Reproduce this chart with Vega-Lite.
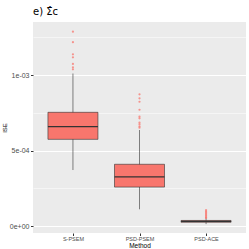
{
  "$schema": "https://vega.github.io/schema/vega-lite/v6.json",
  "autosize": "none",
  "width": 213,
  "height": 211,
  "padding": {"left": 33, "top": 22, "right": 3, "bottom": 16},
  "background": "white",
  "title": {"text": "e) Σ̂c", "anchor": "start", "frame": "group", "fontSize": 10, "fontWeight": "normal", "font": "DejaVu Sans", "color": "black", "offset": 5},
  "config": {
    "view": {"fill": "#EBEBEB", "stroke": null},
    "axis": {"domain": false, "gridColor": "white", "tickColor": "#333333", "tickSize": 2.5, "labelColor": "#4D4D4D", "labelFont": "Liberation Sans", "titleFont": "Liberation Sans", "titleFontWeight": "normal", "titleColor": "black"}
  },
  "datasets": {
    "stats": [
      {"Method": "S-PSEM", "lower": 0.000371, "q1": 0.000574, "median": 0.000658, "q3": 0.000753, "upper": 0.00101},
      {"Method": "PSD-PSEM", "lower": 0.000111, "q1": 0.000258, "median": 0.000325, "q3": 0.000409, "upper": 0.000636},
      {"Method": "PSD-ACE", "lower": 0.000013, "q1": 0.000025, "median": 0.000031, "q3": 0.000037, "upper": 0.000052}
    ],
    "outliers": [
      {"Method": "S-PSEM", "ISE": 0.001287},
      {"Method": "S-PSEM", "ISE": 0.001217},
      {"Method": "S-PSEM", "ISE": 0.001137},
      {"Method": "S-PSEM", "ISE": 0.001117},
      {"Method": "S-PSEM", "ISE": 0.001073},
      {"Method": "S-PSEM", "ISE": 0.001051},
      {"Method": "S-PSEM", "ISE": 0.001038},
      {"Method": "PSD-PSEM", "ISE": 0.000872},
      {"Method": "PSD-PSEM", "ISE": 0.000846},
      {"Method": "PSD-PSEM", "ISE": 0.000823},
      {"Method": "PSD-PSEM", "ISE": 0.000770},
      {"Method": "PSD-PSEM", "ISE": 0.000724},
      {"Method": "PSD-PSEM", "ISE": 0.000713},
      {"Method": "PSD-PSEM", "ISE": 0.000684},
      {"Method": "PSD-PSEM", "ISE": 0.000674},
      {"Method": "PSD-PSEM", "ISE": 0.000660},
      {"Method": "PSD-PSEM", "ISE": 0.000651},
      {"Method": "PSD-ACE", "ISE": 0.000106},
      {"Method": "PSD-ACE", "ISE": 0.000098},
      {"Method": "PSD-ACE", "ISE": 0.000090},
      {"Method": "PSD-ACE", "ISE": 0.000082},
      {"Method": "PSD-ACE", "ISE": 0.000074},
      {"Method": "PSD-ACE", "ISE": 0.000066},
      {"Method": "PSD-ACE", "ISE": 0.000058},
      {"Method": "PSD-ACE", "ISE": 0.000054}
    ]
  },
  "encoding": {
    "x": {
      "field": "Method", "type": "nominal",
      "scale": {"type": "point", "domain": ["S-PSEM", "PSD-PSEM", "PSD-ACE"], "padding": 0.6},
      "axis": {"title": "Method", "titleFontSize": 6.5, "titlePadding": 0, "labelFontSize": 5.5, "labelAngle": 0, "labelPadding": 1, "gridWidth": 1}
    }
  },
  "layer": [
    {
      "data": {"name": "stats"},
      "mark": {"type": "rule", "color": "#333333", "strokeWidth": 0.6},
      "encoding": {
        "y": {
          "field": "lower", "type": "quantitative",
          "scale": {"domain": [-0.000046, 0.001351], "nice": false, "zero": false},
          "axis": {
            "title": "ISE", "titleFontSize": 6, "titlePadding": 2,
            "values": [0, 0.00025, 0.0005, 0.00075, 0.001, 0.00125],
            "labelExpr": "datum.value == 0 ? '0e+00' : datum.value == 0.0005 ? '5e-04' : datum.value == 0.001 ? '1e-03' : ''",
            "labelFontSize": 7, "labelPadding": 1.5,
            "tickOpacity": {"condition": {"test": "datum.value == 0 || datum.value == 0.0005 || datum.value == 0.001", "value": 1}, "value": 0},
            "gridWidth": {"condition": {"test": "datum.value == 0 || datum.value == 0.0005 || datum.value == 0.001", "value": 1}, "value": 0.5}
          }
        },
        "y2": {"field": "upper"}
      }
    },
    {
      "data": {"name": "stats"},
      "mark": {"type": "bar", "width": 50, "fill": "#F8766D", "stroke": "#333333", "strokeWidth": 0.6},
      "encoding": {
        "y": {"field": "q1", "type": "quantitative"},
        "y2": {"field": "q3"}
      }
    },
    {
      "data": {"name": "stats"},
      "mark": {"type": "tick", "color": "#333333", "thickness": 1.3, "size": 50, "opacity": 1},
      "encoding": {
        "y": {"field": "median", "type": "quantitative"}
      }
    },
    {
      "data": {"name": "outliers"},
      "mark": {"type": "circle", "color": "#F8766D", "size": 5, "opacity": 0.75},
      "encoding": {
        "y": {"field": "ISE", "type": "quantitative"}
      }
    }
  ]
}
